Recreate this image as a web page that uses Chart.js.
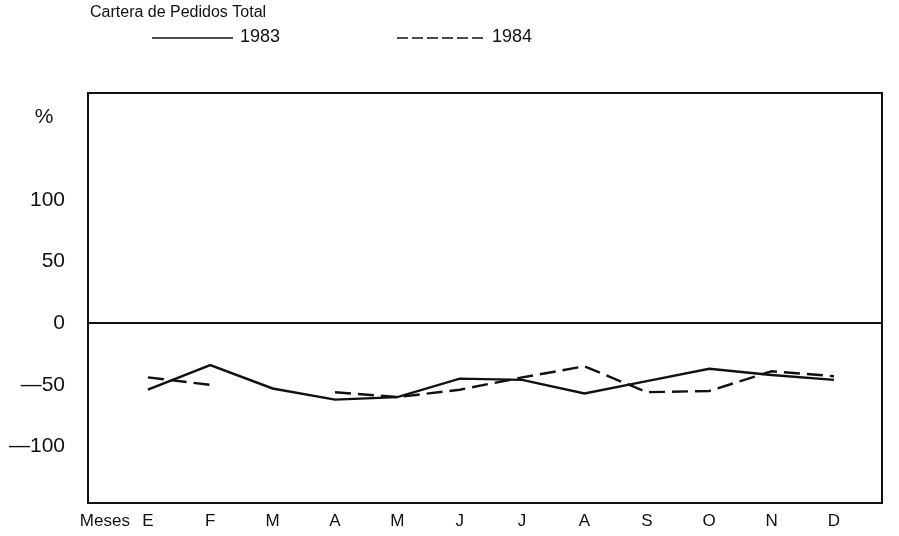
<!DOCTYPE html>
<html>
<head>
<meta charset="utf-8">
<script src="https://cdn.jsdelivr.net/npm/chart.js@4/dist/chart.umd.min.js"></script>
<style>
  html, body { margin: 0; padding: 0; background: #fff; }
  #wrap { width: 899px; height: 536px; position: relative; }
</style>
</head>
<body>
<div id="wrap"><canvas id="chart"></canvas></div>
<script>
// datos
const meses = ['E', 'F', 'M', 'A', 'M', 'J', 'J', 'A', 'S', 'O', 'N', 'D'];
const serie1983 = [-54, -34, -53, -62, -60, -45, -46, -57, -47, -37, -42, -46];
const serie1984 = [-44, -50, null, -56, -60, -54, -44, -35, -56, -55, -39, -43];
const yTicks = [-100, -50, 0, 50, 100];
const titulo = 'Cartera de Pedidos Total';

const FONT = "'Liberation Sans', Arial, sans-serif";
const INK = '#111';

const toPoints = arr => arr.map((v, i) => ({ x: i, y: v }));

// titulo + leyenda dibujados a mano (la leyenda del original no es la de Chart.js)
const cabecera = {
  id: 'cabecera',
  afterDraw(chart) {
    const ctx = chart.ctx;
    ctx.save();
    ctx.fillStyle = INK;
    ctx.textBaseline = 'middle';
    ctx.font = '16px ' + FONT;
    ctx.fillText(titulo, 90, 13);

    const items = [
      { x0: 152, x1: 233, tx: 240 },
      { x0: 397, x1: 485, tx: 492 }
    ];
    chart.data.datasets.forEach((ds, i) => {
      const it = items[i];
      ctx.strokeStyle = INK;
      ctx.lineWidth = 1.6;
      ctx.setLineDash(ds.borderDash ? [11, 4] : []);
      ctx.beginPath();
      ctx.moveTo(it.x0, 38);
      ctx.lineTo(it.x1, 38);
      ctx.stroke();
      ctx.setLineDash([]);
      ctx.font = '18px ' + FONT;
      ctx.fillText(ds.label, it.tx, 37);
    });

    // marco completo
    const a = chart.chartArea;
    ctx.lineWidth = 2;
    ctx.strokeStyle = INK;
    ctx.strokeRect(a.left, a.top, a.right - a.left, a.bottom - a.top);
    ctx.restore();
  }
};

new Chart(document.getElementById('chart'), {
  type: 'line',
  data: {
    datasets: [
      {
        label: '1983',
        data: toPoints(serie1983),
        borderColor: INK,
        borderWidth: 2.4,
        pointRadius: 0,
        tension: 0
      },
      {
        label: '1984',
        data: toPoints(serie1984),
        borderColor: INK,
        borderWidth: 2.4,
        borderDash: [16, 7],
        pointRadius: 0,
        tension: 0,
        spanGaps: false
      }
    ]
  },
  options: {
    responsive: true,
    maintainAspectRatio: false,
    animation: false,
    layout: { padding: { left: 0, top: 93, right: 17, bottom: 0 } },
    plugins: {
      legend: { display: false },
      tooltip: { enabled: false }
    },
    scales: {
      x: {
        type: 'linear',
        min: -0.96,
        max: 11.77,
        afterFit: s => { s.height = 33; },
        afterBuildTicks: s => {
          s.ticks = [{ value: -0.69 }].concat(meses.map((m, i) => ({ value: i })));
        },
        ticks: {
          autoSkip: false,
          maxRotation: 0,
          padding: 8,
          color: INK,
          font: { family: FONT, size: 17 },
          callback: v => (v < 0 ? 'Meses' : meses[v])
        },
        grid: { drawOnChartArea: false, drawTicks: false },
        border: { display: true, color: INK, width: 2 }
      },
      y: {
        min: -146,
        max: 187,
        // ancho fijo y sin reservar hueco abajo para la etiqueta
        afterFit: s => { s.width = 88; s.paddingBottom = 0; s.paddingTop = 0; },
        afterBuildTicks: s => {
          s.ticks = yTicks.map(v => ({ value: v })).concat([{ value: 167 }]);
        },
        ticks: {
          autoSkip: false,
          padding: 23,
          color: INK,
          font: { family: FONT, size: 21 },
          callback: v => (v === 167 ? '%  ' : (v < 0 ? '\u2014' + Math.abs(v) : String(v)))
        },
        grid: {
          drawTicks: false,
          lineWidth: 2,
          color: c => (c.tick && c.tick.value === 0 ? INK : 'rgba(0,0,0,0)')
        },
        border: { display: true, color: INK, width: 2 }
      }
    }
  },
  plugins: [cabecera]
});
</script>
</body>
</html>
